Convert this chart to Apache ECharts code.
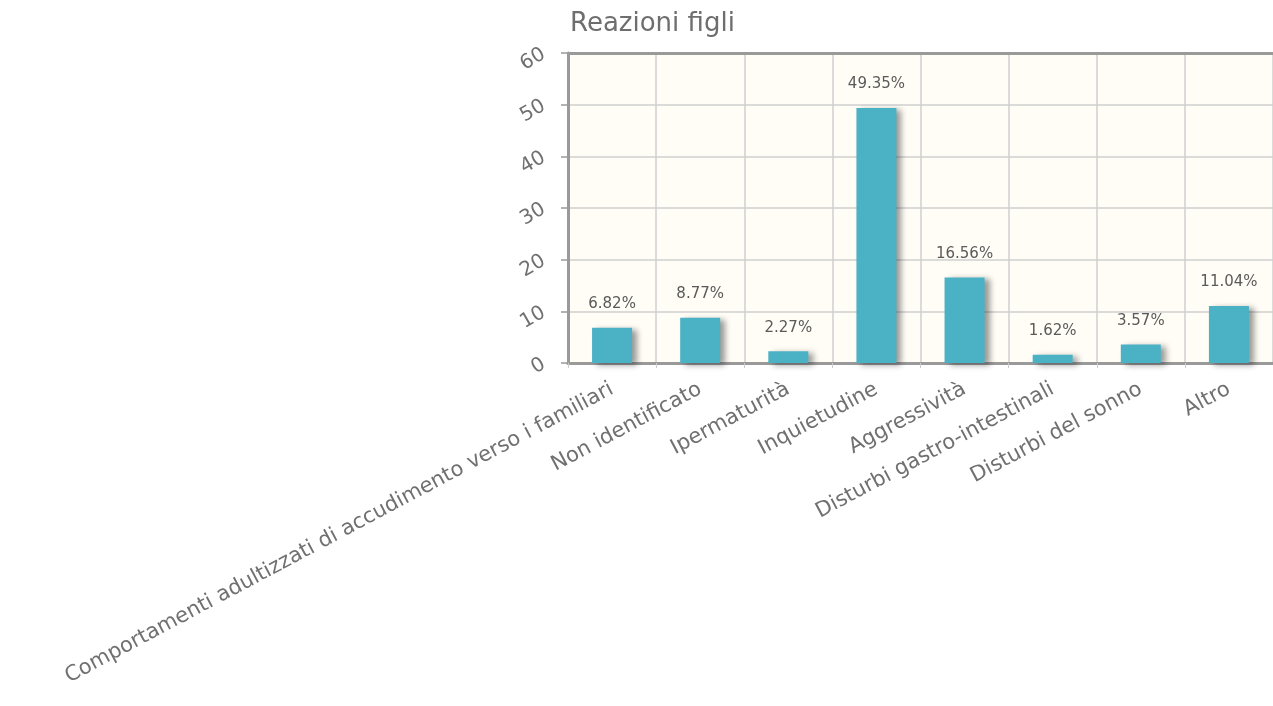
<!DOCTYPE html>
<html>
<head>
<meta charset="utf-8">
<script src="https://cdn.jsdelivr.net/npm/echarts@6/dist/echarts.min.js"></script>
<style>
  html, body { margin: 0; padding: 0; background: #ffffff; }
  #chart { width: 1273px; height: 706px; }
</style>
</head>
<body>
<div id="chart"></div>
<script>
// Reazioni figli: percentuali per categoria
const categories = [
  'Comportamenti adultizzati di accudimento verso i familiari',
  'Non identificato',
  'Ipermaturità',
  'Inquietudine',
  'Aggressività',
  'Disturbi gastro-intestinali',
  'Disturbi del sonno',
  'Altro'
];
const percentages = [6.82, 8.77, 2.27, 49.35, 16.56, 1.62, 3.57, 11.04];
const yTicks = [0, 10, 20, 30, 40, 50, 60];

const chart = echarts.init(document.getElementById('chart'));
chart.setOption({
  animation: false,
  title: {
    text: 'Reazioni figli',
    left: 565,
    top: 6,
    textStyle: { fontFamily: 'DejaVu Sans', fontSize: 26, fontWeight: 'normal', color: '#6e6e6e' }
  },
  grid: {
    left: 568,
    top: 53,
    width: 708,
    height: 310,
    show: true,
    backgroundColor: '#fffdf6',
    borderWidth: 0
  },
  xAxis: {
    type: 'category',
    data: categories,
    axisLine: { show: true, lineStyle: { color: '#9a9a9a', width: 3 } },
    axisTick: { show: true, length: 5, lineStyle: { color: '#cccccc' } },
    splitLine: { show: true, lineStyle: { color: '#cfcfcf', width: 1.5 } },
    axisLabel: {
      rotate: 28,
      interval: 0,
      margin: 25,
      fontFamily: 'DejaVu Sans',
      fontSize: 21,
      color: '#707070'
    }
  },
  yAxis: {
    type: 'value',
    min: yTicks[0],
    max: yTicks[yTicks.length - 1],
    interval: 10,
    axisLine: { show: true, lineStyle: { color: '#9a9a9a', width: 3 } },
    axisTick: { show: true, length: 7, lineStyle: { color: '#9a9a9a', width: 1.5 } },
    splitLine: { show: true, lineStyle: { color: '#cfcfcf', width: 1.5 } },
    axisLabel: {
      rotate: 30,
      margin: 24,
      fontFamily: 'DejaVu Sans',
      fontSize: 20,
      color: '#707070'
    }
  },
  series: [
    {
      type: 'bar',
      data: percentages,
      barWidth: 40,
      itemStyle: {
        color: '#4bb2c5',
        shadowColor: 'rgba(0,0,0,0.4)',
        shadowBlur: 6,
        shadowOffsetX: 5,
        shadowOffsetY: 2
      },
      label: {
        show: true,
        position: 'top',
        distance: 16,
        formatter: (p) => p.value.toFixed(2) + '%',
        fontFamily: 'DejaVu Sans',
        fontSize: 15,
        color: '#5a5a5a'
      }
    },
    {
      // top border of the plotting area
      type: 'line',
      data: [],
      markLine: {
        silent: true,
        symbol: 'none',
        label: { show: false },
        lineStyle: { color: '#9a9a9a', width: 3, type: 'solid' },
        data: [{ yAxis: yTicks[yTicks.length - 1] }]
      }
    }
  ]
});
</script>
</body>
</html>
